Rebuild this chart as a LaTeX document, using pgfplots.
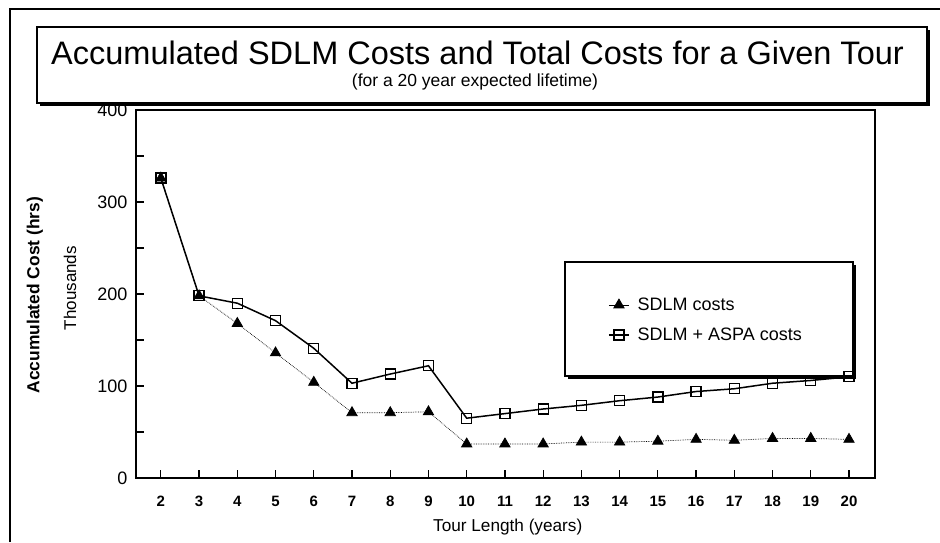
\documentclass[border=0pt]{standalone}
\usepackage{fontspec}
\setmainfont{Liberation Sans}
\usepackage{pgfplots}
\pgfplotsset{compat=1.18}
\newcommand{\fs}[1]{\fontsize{#1}{#1}\selectfont}

\begin{document}
\begin{tikzpicture}
\useasboundingbox (0,0) rectangle (940pt,542pt);
% legend box (behind the axis)
\begin{scope}[x=1pt,y=-1pt,shift={(0pt,542pt)}]
  \fill[black] (568,265) rectangle (856,379);
  \draw[line width=1.5pt, fill=white] (565,262) rectangle (853,376);
\end{scope}
\begin{axis}[
  at={(136pt,64pt)}, anchor=south west,
  scale only axis, width=739pt, height=368pt,
  clip mode=individual,
  xmin=1.35, xmax=20.68, ymin=0, ymax=400,
  xtick={2,...,20}, ytick={0,100,...,400}, minor ytick={50,150,250,350},
  xtick pos=left, ytick pos=left,
  tick align=inside, major tick length=8.5pt, minor tick length=8.5pt,
  every tick/.style={line width=1.2pt, black},
  axis line style={line width=1.6pt},
  /pgf/number format/assume math mode=true,
  xticklabel style={font=\bfseries\fs{15}, text height=11pt, text depth=0pt, yshift=-14pt},
  yticklabel style={font=\fs{18}, xshift=-5pt},
  xlabel={Tour Length (years)},
  xlabel style={font=\fs{17.2}, at={(axis description cs:0.503,-0.133)}, anchor=center},
  ylabel={\bfseries Accumulated Cost (hrs)},
  ylabel style={font=\fs{17.4}, at={(axis description cs:-0.1367,0.497)}, anchor=center},
  legend cell align=left,
  legend style={draw=none, fill=none, at={(axis description cs:0.6387,0.4293)}, anchor=west,
    font=\fs{18}, inner sep=0pt, row sep=12pt,
    /tikz/every odd column/.append style={column sep=6pt}},
  legend image code/.code={
    \draw[mark repeat=2,mark phase=2,#1,solid] plot coordinates {(0pt,0pt) (10pt,0pt) (20pt,0pt)};
  },
]
\addplot[black, line width=0.7pt, densely dotted, mark=triangle*, mark size=6pt,
  mark options={solid, fill=black}] coordinates {
  (2,326)(3,198)(4,168)(5,136)(6,104)(7,71)(8,71)(9,72)(10,37)(11,37)
  (12,37)(13,39)(14,39)(15,40)(16,42)(17,41)(18,43)(19,43)(20,42)};
\addlegendentry{SDLM costs}
\addplot[black, line width=1.5pt, mark=square, mark size=5pt,
  mark options={solid, line width=1.3pt}] coordinates {
  (2,326)(3,198)(4,190)(5,171)(6,141)(7,103)(8,113)(9,122)(10,65)(11,70)
  (12,75)(13,79)(14,84)(15,88)(16,94)(17,97)(18,103)(19,106)(20,110)};
\addlegendentry{SDLM + ASPA costs}
\node[rotate=90, font=\fs{17}] at (axis description cs:-0.0893,0.516) {Thousands};
\end{axis}
\begin{scope}[x=1pt,y=-1pt,shift={(0pt,542pt)}]
  % outer frame (left and top)
  \draw[line width=2pt] (10,542) -- (10,9) -- (940,9);
  % title box
  \fill[black] (40,30) rectangle (930,106);
  \draw[line width=1.8pt, fill=white] (37,27) rectangle (927,103);
  \node[anchor=base, font=\fs{32.5}, inner sep=0pt] at (477.5,65) {Accumulated SDLM Costs and Total Costs for a Given Tour};
  \node[anchor=base, font=\fs{17.5}, inner sep=0pt] at (475,87) {(for a 20 year expected lifetime)};
\end{scope}
\end{tikzpicture}
\end{document}
